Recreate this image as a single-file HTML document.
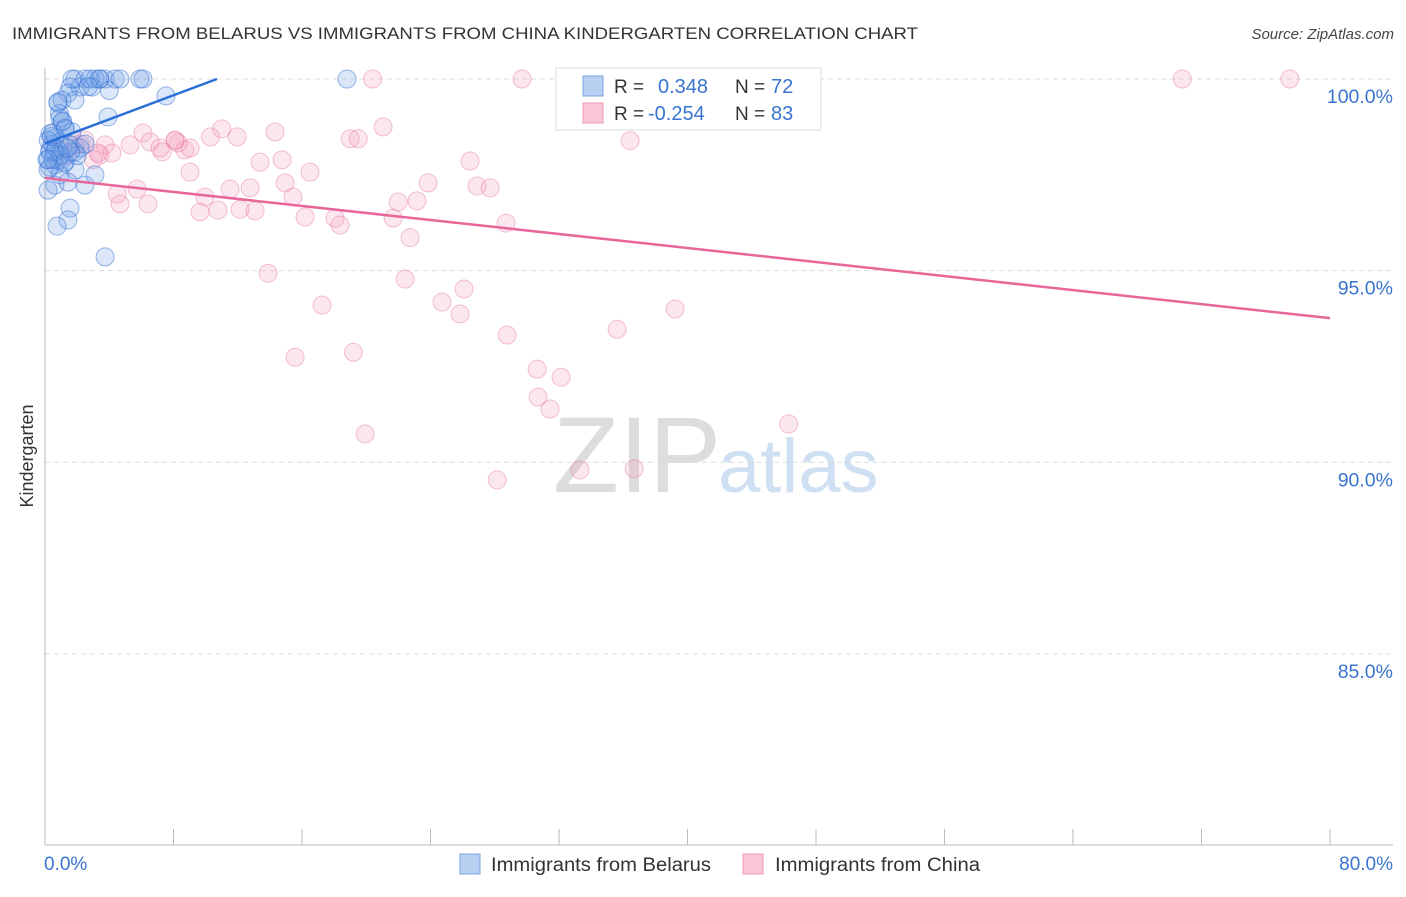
<!DOCTYPE html>
<html><head><meta charset="utf-8"><style>
body{margin:0;background:#fff;font-family:"Liberation Sans",sans-serif;}
svg text{font-family:"Liberation Sans",sans-serif;}
</style></head><body>
<svg id="chart" width="1406" height="892" xmlns="http://www.w3.org/2000/svg">
<text x="12" y="39" font-size="17" fill="#333" textLength="906" lengthAdjust="spacingAndGlyphs">IMMIGRANTS FROM BELARUS VS IMMIGRANTS FROM CHINA KINDERGARTEN CORRELATION CHART</text>
<text x="1394" y="39" font-size="15" fill="#444" font-style="italic" text-anchor="end">Source: ZipAtlas.com</text>
<text x="33" y="456" font-size="18" fill="#333" text-anchor="middle" transform="rotate(-90 33 456)">Kindergarten</text>
<text x="553" y="492" font-size="108" fill="#ddd" font-family="Liberation Serif">ZIP</text>
<text x="718" y="492" font-size="76" fill="#cfe0f3">atlas</text>
<g id="grid"></g><g id="axes"></g><g id="pts"></g><g id="lines"></g>
<g>
<rect x="556" y="68" width="265" height="62" fill="#fff" stroke="#ddd"/>
<rect x="583" y="76" width="20" height="20" fill="#b8d0f2" stroke="#7aa5e0"/>
<rect x="583" y="103" width="20" height="20" fill="#f9c6d6" stroke="#ef9ab5"/>
<text x="614" y="93" font-size="19" fill="#333">R =</text>
<text x="658" y="93" font-size="20" fill="#3a74d0">0.348</text>
<text x="735" y="93" font-size="19" fill="#333">N =</text>
<text x="771" y="93" font-size="20" fill="#3a74d0">72</text>
<text x="614" y="120" font-size="19" fill="#333">R =</text>
<text x="648" y="120" font-size="20" fill="#3a74d0">-0.254</text>
<text x="735" y="120" font-size="19" fill="#333">N =</text>
<text x="771" y="120" font-size="20" fill="#3a74d0">83</text>
</g>
<g>
<rect x="460" y="854" width="20" height="20" fill="#b8d0f2" stroke="#7aa5e0"/>
<text x="491" y="871" font-size="19" fill="#333" textLength="220" lengthAdjust="spacingAndGlyphs">Immigrants from Belarus</text>
<rect x="743" y="854" width="20" height="20" fill="#f9c6d6" stroke="#ef9ab5"/>
<text x="775" y="871" font-size="19" fill="#333" textLength="205" lengthAdjust="spacingAndGlyphs">Immigrants from China</text>
</g>
</svg>
<script>
const yTicks=[100,95,90,85];
const xTickLabels=["0.0%","80.0%"];
const belarusX=[1.87,2.49,3.11,3.42,3.74,4.36,5.92,6.1,18.8,1.56,2.18,2.93,1.43,0.81,1.06,1.87,3.92,7.53,0.93,1.06,1.25,1.68,0.31,0.62,0.93,1.56,2.18,0.31,0.93,1.87,0.62,1.25,0.19,0.93,1.87,3.11,0.62,1.43,2.49,0.19,1.56,1.43,0.75,3.74,0.44,0.12,0.81,1.25,4.67,2.8,1.68,0.3,0.5,0.7,1.0,1.2,0.2,0.4,0.6,2.5,2.0,1.6,0.9,0.3,0.5,1.1,3.4,2.7,0.8,1.4,0.2,4.0];
const belarusY=[100,100,100,100,100,100,100,100,100,99.79,99.79,99.79,99.63,99.37,99.45,99.45,99.01,99.56,98.98,98.88,98.72,98.62,98.57,98.46,98.36,98.28,98.2,98.15,98.02,98.1,97.76,97.83,97.63,97.5,97.63,97.5,97.23,97.31,97.23,97.1,96.63,96.32,96.16,95.36,98.3,97.9,97.89,98.7,100,100,100,98.1,97.9,98.2,98.0,97.8,98.4,98.5,98.1,98.3,98.0,98.1,99.1,97.7,98.6,98.9,100,99.8,99.4,98.2,97.9,99.7];
const chinaX=[20.4,29.7,32.9,41.1,70.8,77.5,0.93,1.87,2.49,3.42,3.74,5.3,6.1,6.54,7.3,8.1,8.7,9.03,10.3,11.0,11.96,9.96,9.65,10.77,11.52,12.77,13.08,13.39,14.32,14.76,14.95,15.44,16.19,16.5,17.25,15.57,18.06,18.37,19.0,19.5,19.2,19.93,21.05,21.67,21.99,22.73,23.16,22.42,23.85,24.72,25.84,26.09,26.46,26.9,27.71,28.7,28.77,28.15,30.64,30.7,31.44,32.13,33.3,35.62,36.43,36.68,39.23,46.3,4.67,6.41,5.73,3.3,1.43,4.17,7.16,8.29,12.14,13.89,8.1,9.03,2.2,3.0,4.5];
const chinaY=[100,100,100,99.9,100,100,98.15,98.28,98.41,98.02,98.28,98.28,98.59,98.36,98.1,98.41,98.15,97.57,98.49,98.7,98.49,96.92,96.53,96.58,97.13,97.16,96.56,97.83,98.62,97.89,97.29,96.92,96.40,97.57,94.10,92.74,96.37,96.19,98.44,98.44,92.87,90.74,98.75,96.37,96.79,95.86,96.82,94.78,97.29,94.18,93.87,94.52,97.86,97.21,97.16,96.24,93.32,89.54,92.43,91.70,91.39,92.22,89.80,93.47,98.39,89.83,94.0,91.0,96.74,96.74,97.13,98.07,98.02,98.07,98.2,98.33,96.6,94.93,98.39,98.2,98.3,97.9,97.0];
const blueLine=[[0,98.32],[10.7,100]];
const pinkLine=[[0,97.42],[80,93.76]];
const NS="http://www.w3.org/2000/svg";
const X=v=>45+v/80*1285;
const Y=v=>79+(100-v)*38.33;
function mk(tag,a,parent){const e=document.createElementNS(NS,tag);for(const k in a)e.setAttribute(k,a[k]);document.getElementById(parent).appendChild(e);return e;}
yTicks.forEach(t=>{
 const l=mk('line',{x1:45,x2:1393,y1:Y(t),y2:Y(t),stroke:'#ddd','stroke-dasharray':'5,4'},'grid');
 
 
 const tx=mk('text',{x:1393,y:Y(t)+24,'font-size':19.5,fill:'#3a74d0','text-anchor':'end'},'grid');
 tx.textContent=t.toFixed(1)+'%';
 
 
});
const ax=mk('line',{x1:45,x2:45,y1:68,y2:845,stroke:'#bbb'},'axes');


const bx=mk('line',{x1:45,x2:1393,y1:845,y2:845,stroke:'#bbb'},'axes');


for(let i=1;i<=10;i++){const t=mk('line',{x1:X(i*8),x2:X(i*8),y1:829,y2:845,stroke:'#bbb'},'axes');
 
 }
[[X(0)-1,'start'],[X(80)+63,'end']].forEach((p,i)=>{const t=mk('text',{x:p[0],y:870,'font-size':19,fill:'#3a74d0','text-anchor':p[1]},'axes');t.textContent=xTickLabels[i];
 
 });
chinaX.forEach((v,i)=>{const c=mk('circle',{cx:X(v),cy:Y(chinaY[i]),r:9,fill:'rgba(244,160,190,0.25)',stroke:'rgba(230,120,160,0.45)','stroke-width':1},'pts');
 
 });
belarusX.forEach((v,i)=>{const c=mk('circle',{cx:X(v),cy:Y(belarusY[i]),r:9,fill:'rgba(110,160,230,0.25)',stroke:'rgba(50,110,210,0.5)','stroke-width':1},'pts');
 
 });
const bl=mk('line',{x1:X(blueLine[0][0]),y1:Y(blueLine[0][1]),x2:X(blueLine[1][0]),y2:Y(blueLine[1][1]),stroke:'#2a6fd6','stroke-width':2.5},'lines');


const pl=mk('line',{x1:X(pinkLine[0][0]),y1:Y(pinkLine[0][1]),x2:X(pinkLine[1][0]),y2:Y(pinkLine[1][1]),stroke:'#e8679a','stroke-width':2.5},'lines');


</script>
</body></html>
